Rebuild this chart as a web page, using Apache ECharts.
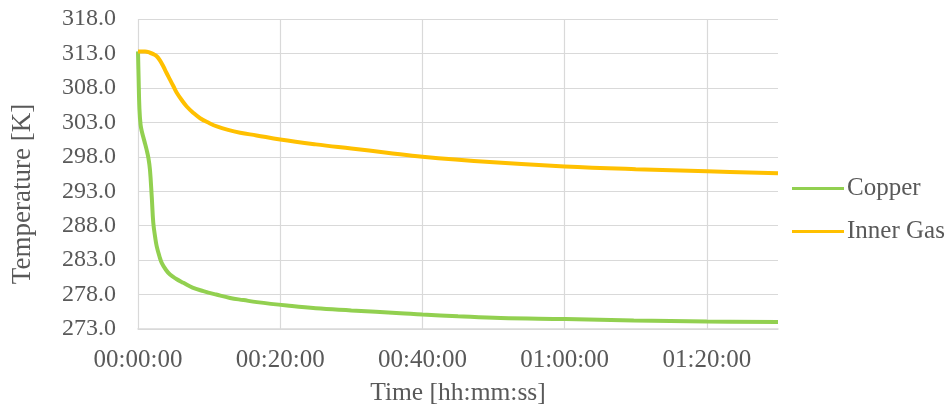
<!DOCTYPE html>
<html>
<head>
<meta charset="utf-8">
<script src="https://cdn.jsdelivr.net/npm/echarts@6/dist/echarts.min.js"></script>
<style>
  html, body { margin: 0; padding: 0; background: #ffffff; }
  #chart { width: 951px; height: 410px; }
</style>
</head>
<body>
<div id="chart"></div>
<script>
// Elapsed time in seconds and temperatures in kelvin
const copperTime = [0, 5, 12, 22, 35, 55, 73, 88, 101, 116, 129, 145, 158, 180, 200, 235, 270, 320, 383, 460, 552, 660, 777, 890, 1003, 1257, 1500, 1800, 2214, 2400, 2700, 3059, 3606, 4183, 4800, 5400];
const copperTemp = [313.3, 309.5, 305.0, 302.6, 301.5, 300.2, 299.0, 297.8, 296.1, 292.2, 288.4, 286.3, 285.0, 283.6, 282.6, 281.6, 280.9, 280.3, 279.7, 279.0, 278.5, 278.0, 277.5, 277.2, 276.9, 276.4, 276.0, 275.7, 275.3, 275.1, 274.85, 274.6, 274.45, 274.25, 274.1, 274.0];

const gasTime = [0, 17, 60, 101, 130, 158, 185, 214, 240, 270, 300, 327, 370, 411, 465, 524, 600, 665, 760, 862, 1000, 1200, 1500, 1800, 2100, 2400, 3000, 3600, 4200, 4800, 5400];
const gasTemp = [313.3, 313.3, 313.3, 313.1, 312.9, 312.6, 312.0, 311.1, 310.2, 309.2, 308.2, 307.3, 306.2, 305.3, 304.4, 303.6, 302.9, 302.4, 301.9, 301.5, 301.1, 300.5, 299.8, 299.2, 298.6, 298.0, 297.2, 296.6, 296.2, 295.9, 295.6];

const seriesNames = ['Copper', 'Inner Gas'];
const xTitle = 'Time [hh:mm:ss]';
const yTitle = 'Temperature [K]';

const FONT = '"Liberation Serif", "Times New Roman", serif';
const TEXT = '#595959';
const GRID = '#D9D9D9';

function pairs(xs, ys) {
  return xs.map((x, i) => [x, ys[i]]);
}

function hms(sec) {
  const h = Math.floor(sec / 3600);
  const m = Math.floor((sec % 3600) / 60);
  const s = Math.round(sec % 60);
  const p = n => String(n).padStart(2, '0');
  return p(h) + ':' + p(m) + ':' + p(s);
}

const chart = echarts.init(document.getElementById('chart'), null, { renderer: 'canvas' });

chart.setOption({
  animation: false,
  backgroundColor: '#ffffff',
  grid: { left: 138, right: 173, top: 19, bottom: 81, containLabel: false, outerBoundsMode: 'none' },
  legend: {
    orient: 'vertical',
    left: 792,
    top: 176,
    padding: 0,
    icon: 'rect',
    itemWidth: 52,
    itemHeight: 3,
    itemGap: 18,
    itemStyle: { borderWidth: 0 },
    textStyle: { fontFamily: FONT, fontSize: 25, color: TEXT, padding: [0, 0, 0, -2] },
    data: seriesNames
  },
  xAxis: {
    type: 'value',
    min: 0,
    max: 5400,
    interval: 1200,
    name: xTitle,
    nameLocation: 'middle',
    nameGap: 51,
    nameTextStyle: { fontFamily: FONT, fontSize: 25.5, color: TEXT },
    axisLine: { show: true, lineStyle: { color: GRID, width: 1.5 } },
    axisTick: { show: false },
    axisLabel: {
      fontFamily: FONT, fontSize: 25, color: TEXT, margin: 19,
      showMaxLabel: false,
      formatter: v => hms(v)
    },
    splitLine: { show: true, showMinLine: true, showMaxLine: false, lineStyle: { color: GRID, width: 1.2 } }
  },
  yAxis: {
    type: 'value',
    min: 273,
    max: 318,
    interval: 5,
    axisLine: { show: false },
    axisTick: { show: false },
    axisLabel: {
      fontFamily: FONT, fontSize: 24, color: TEXT, margin: 22,
      formatter: v => v.toFixed(1)
    },
    splitLine: { show: true, lineStyle: { color: GRID, width: 1.2 } }
  },
  graphic: [{
    type: 'text',
    x: 23,
    y: 194,
    rotation: Math.PI / 2,
    style: {
      text: yTitle,
      fontFamily: FONT,
      fontSize: 27,
      fill: TEXT,
      align: 'center',
      verticalAlign: 'middle'
    }
  }],
  series: [
    {
      name: seriesNames[0],
      type: 'line',
      data: pairs(copperTime, copperTemp),
      showSymbol: false,
      smooth: 0.4,
      color: '#92D050',
      lineStyle: { color: '#92D050', width: 4 },
      z: 3
    },
    {
      name: seriesNames[1],
      type: 'line',
      data: pairs(gasTime, gasTemp),
      showSymbol: false,
      smooth: 0.4,
      color: '#FFC000',
      lineStyle: { color: '#FFC000', width: 4 },
      z: 4
    }
  ]
});
</script>
</body>
</html>
